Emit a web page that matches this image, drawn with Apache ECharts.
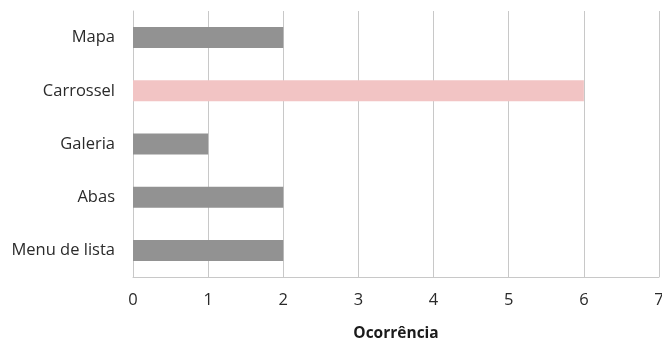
<!DOCTYPE html>
<html>
<head>
<meta charset="utf-8">
<script src="https://cdn.jsdelivr.net/npm/echarts@6/dist/echarts.min.js"></script>
<style>
html,body{margin:0;padding:0;background:#fff;}
#chart{width:662px;height:345px;}
</style>
</head>
<body>
<div id="chart"></div>
<script>
// Categories listed bottom-to-top (category axis on y starts at the bottom)
const categories = ['Menu de lista', 'Abas', 'Galeria', 'Carrossel', 'Mapa'];
const occurrences = [2, 2, 1, 6, 2];
const highlighted = 'Carrossel';
const xTicks = [0, 1, 2, 3, 4, 5, 6, 7];

const FONT = '"Open Sans", "Liberation Sans", sans-serif';

const chart = echarts.init(document.getElementById('chart'), null, { renderer: 'canvas' });
chart.setOption({
  animation: false,
  backgroundColor: '#ffffff',
  grid: { left: 133, right: 3, top: 11, bottom: 68, containLabel: false, outerBoundsMode: 'none' },
  xAxis: {
    type: 'value',
    min: xTicks[0],
    max: xTicks[xTicks.length - 1],
    interval: 1,
    name: 'Ocorrência',
    nameLocation: 'middle',
    nameGap: 49,
    nameTextStyle: { fontFamily: FONT, fontSize: 15.5, fontWeight: 'bold', color: '#1a1a1a' },
    axisLine: { show: true, lineStyle: { color: '#c8c8c8', width: 1 } },
    axisTick: { show: false },
    axisLabel: { fontFamily: FONT, fontSize: 16.5, color: '#2a2a2a', margin: 15 },
    splitLine: { show: true, lineStyle: { color: '#c8c8c8', width: 1 } }
  },
  yAxis: {
    type: 'category',
    data: categories,
    axisLine: { show: true, lineStyle: { color: '#c8c8c8', width: 1 } },
    axisTick: { show: false },
    axisLabel: { fontFamily: FONT, fontSize: 16.5, color: '#2a2a2a', margin: 18 },
    splitLine: { show: false }
  },
  series: [{
    type: 'bar',
    data: occurrences.map((v, i) => ({
      value: v,
      itemStyle: { color: categories[i] === highlighted ? '#f2c4c4' : '#929292' }
    })),
    barWidth: 21
  }]
});
</script>
</body>
</html>
